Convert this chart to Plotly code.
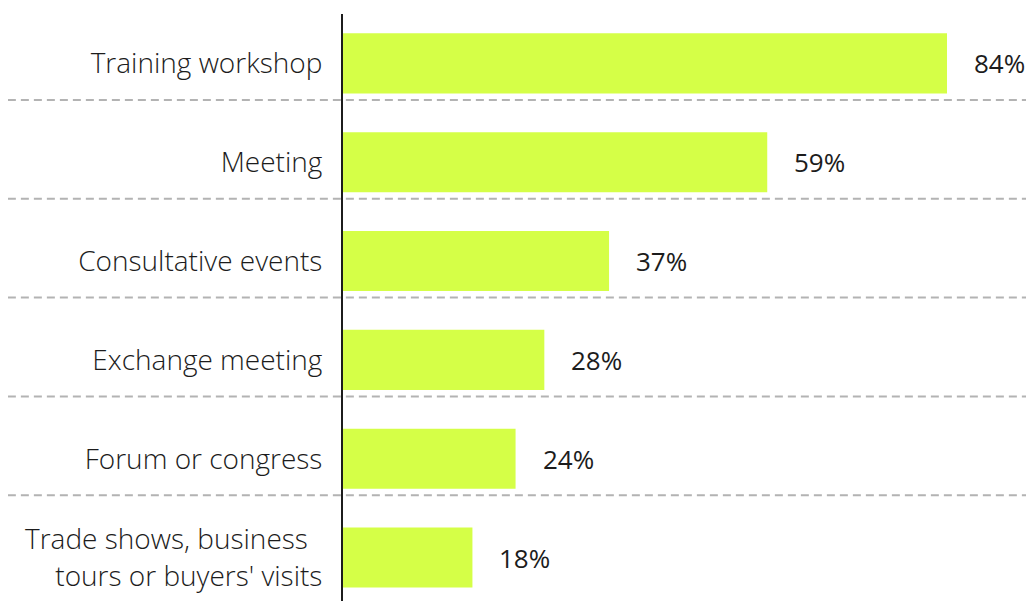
import plotly.graph_objects as go

categories = [
    "Training workshop",
    "Meeting",
    "Consultative events",
    "Exchange meeting",
    "Forum or congress",
    "Trade shows, business&nbsp;&nbsp;<br>tours or buyers' visits",
]
values = [84, 59, 37, 28, 24, 18]
value_labels = [f"{v}%" for v in values]

BAR = "#D5FF47"
TEXT = "#1c1c1c"
FONT = "Open Sans"

fig = go.Figure()
fig.add_trace(go.Bar(
    x=values, y=categories, orientation="h",
    marker=dict(color=BAR, line=dict(width=0)),
    width=0.608, hoverinfo="skip",
))

for c, v, t in zip(categories, values, value_labels):
    fig.add_annotation(x=v, y=c, text=t, showarrow=False, xanchor="left",
                       xshift=25, font=dict(family=FONT, size=26, color=TEXT))

# dashed separators below each row (except last)
for i in range(len(categories) - 1):
    fig.add_shape(type="line", xref="paper", yref="y",
                  x0=-0.485, x1=1.0, y0=i + 0.37, y1=i + 0.37,
                  line=dict(color="#b3b3b3", width=2, dash="8px,5px"),
                  layer="below")

fig.update_layout(
    width=1026, height=593,
    margin=dict(l=335, r=0, t=6, b=0),
    paper_bgcolor="white", plot_bgcolor="white",
    showlegend=False,
    font=dict(family=FONT, color=TEXT),
    xaxis=dict(range=[0, 96.1], visible=False, fixedrange=True),
    yaxis=dict(
        categoryorder="array", categoryarray=categories,
        range=[5.44, -0.5],
        showline=True, linecolor="#1c1c1c", linewidth=2,
        showgrid=False, zeroline=False,
        ticks="outside", ticklen=13, tickcolor="rgba(0,0,0,0)",
        tickfont=dict(family=FONT, size=28, color=TEXT, weight=300),
        fixedrange=True,
    ),
)

fig.write_html("out.html")
